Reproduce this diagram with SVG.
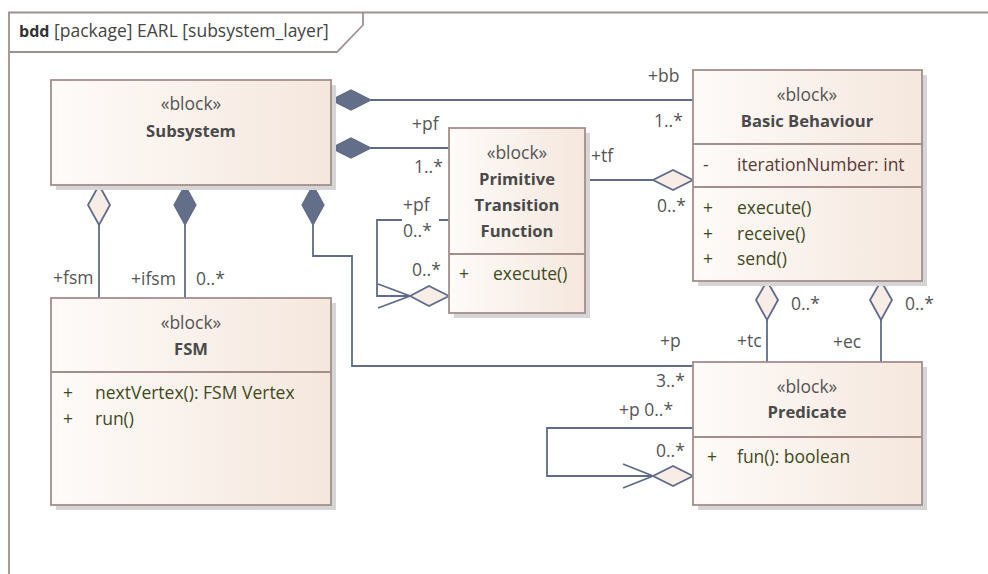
<svg xmlns="http://www.w3.org/2000/svg" width="988" height="574" viewBox="0 0 988 574">
<defs>
<linearGradient id="fill" x1="0" y1="0" x2="1" y2="0">
<stop offset="0" stop-color="#fefbf9"/>
<stop offset="1" stop-color="#f5e7dd"/>
</linearGradient>
</defs>
<style>
text{font-family:"Open Sans","Noto Sans","DejaVu Sans",sans-serif;font-size:17.5px;}
.box{fill:url(#fill);stroke:#a48e8c;stroke-width:1.8;}
.shadow{fill:#d5d5d5;}
.div{stroke:#a48e8c;stroke-width:1.8;}
.st{fill:#555;text-anchor:middle;}
.nm{fill:#4a4a4a;font-weight:bold;text-anchor:middle;font-size:16.6px;}
.op{fill:#3e4a1c;}
.at{fill:#5a3a34;}
.lbl{fill:#555;}
.ln{fill:none;stroke:#5f6b88;stroke-width:1.8;}
.fd{fill:#636e89;stroke:#5f6b88;stroke-width:1.2;}
.hd{fill:#f8ece7;stroke:#5f6b88;stroke-width:1.8;}
.frame{fill:none;stroke:#a09090;stroke-width:1.8;}
</style>
<g id="frame">
<path class="frame" d="M988,12.5 H9 V574"/>
<path class="frame" d="M9,52 H337 L363,25 V12.5"/>
<text x="19" y="37" style="font-weight:bold;fill:#333;font-size:16px">bdd</text>
<text x="54" y="37" style="fill:#444">[package] EARL [subsystem_layer]</text>
</g>
<g id="connectors">
<path class="ln" d="M371,100 H693"/>
<polygon class="fd" points="331,100 351,90 371,100 351,110"/>
<path class="ln" d="M371,148 H449"/>
<polygon class="fd" points="331,148 351,138 371,148 351,158"/>
<path class="ln" d="M585,180 H653"/>
<polygon class="hd" points="693,180 673,170 653,180 673,190"/>
<path class="ln" d="M449,220 H439 M402,220 H377 V296 H410 M378,284 L410,296 L378,308"/>
<polygon class="hd" points="449,296 429,286 410,296 429,306"/>
<path class="ln" d="M99,225 V298"/>
<polygon class="hd" points="99,185 110,205 99,225 88,205"/>
<path class="ln" d="M185,225 V298"/>
<polygon class="fd" points="185,185 196,205 185,225 174,205"/>
<path class="ln" d="M313,225 V256 H352 V366 H693"/>
<polygon class="fd" points="313,185 324,205 313,225 302,205"/>
<path class="ln" d="M767,320 V362"/>
<polygon class="hd" points="767,281 778,300 767,320 756,300"/>
<path class="ln" d="M881,320 V362"/>
<polygon class="hd" points="881,281 892,300 881,320 870,300"/>
<path class="ln" d="M693,428 H547 V476 H653 M623,464 L653,476 L623,488"/>
<polygon class="hd" points="693,476 673,466 653,476 673,486"/>
<text class="lbl" x="648" y="82">+bb</text>
<text class="lbl" x="654" y="127">1..*</text>
<text class="lbl" x="412" y="130">+pf</text>
<text class="lbl" x="414" y="173">1..*</text>
<text class="lbl" x="591" y="162">+tf</text>
<text class="lbl" x="657" y="212">0..*</text>
<text class="lbl" x="403" y="211">+pf</text>
<text class="lbl" x="403" y="237">0..*</text>
<text class="lbl" x="412" y="276">0..*</text>
<text class="lbl" x="53" y="284">+fsm</text>
<text class="lbl" x="131" y="285">+ifsm</text>
<text class="lbl" x="196" y="285">0..*</text>
<text class="lbl" x="791" y="310">0..*</text>
<text class="lbl" x="905" y="310">0..*</text>
<text class="lbl" x="737" y="347">+tc</text>
<text class="lbl" x="833" y="348">+ec</text>
<text class="lbl" x="660" y="347">+p</text>
<text class="lbl" x="656" y="387">3..*</text>
<text class="lbl" x="619" y="416">+p 0..*</text>
<text class="lbl" x="656" y="457">0..*</text>
</g>
<g id="subsystem">
<rect class="shadow" x="56" y="85" width="280" height="105"/>
<rect class="box" x="51" y="80" width="280" height="105"/>
<text class="st" x="191" y="110">«block»</text>
<text class="nm" x="191" y="137">Subsystem</text>
</g>
<g id="ptf">
<rect class="shadow" x="454" y="133" width="136" height="185"/>
<rect class="box" x="449" y="128" width="136" height="185"/>
<line class="div" x1="449" y1="254" x2="585" y2="254"/>
<text class="st" x="517" y="159">«block»</text>
<text class="nm" x="517" y="185">Primitive</text>
<text class="nm" x="517" y="211">Transition</text>
<text class="nm" x="517" y="237">Function</text>
<text class="op" x="459" y="280">+</text>
<text class="op" x="493" y="280">execute()</text>
</g>
<g id="basic-behaviour">
<rect class="shadow" x="698" y="75" width="229" height="211"/>
<rect class="box" x="693" y="70" width="229" height="211"/>
<line class="div" x1="693" y1="144" x2="922" y2="144"/>
<line class="div" x1="693" y1="187" x2="922" y2="187"/>
<text class="st" x="807" y="101">«block»</text>
<text class="nm" x="807" y="127">Basic Behaviour</text>
<text class="at" x="703" y="171">-</text>
<text class="at" x="737" y="171">iterationNumber: int</text>
<text class="op" x="703" y="214">+</text>
<text class="op" x="737" y="214">execute()</text>
<text class="op" x="703" y="240">+</text>
<text class="op" x="737" y="240">receive()</text>
<text class="op" x="703" y="265">+</text>
<text class="op" x="737" y="265">send()</text>
</g>
<g id="fsm">
<rect class="shadow" x="56" y="303" width="280" height="207"/>
<rect class="box" x="51" y="298" width="280" height="207"/>
<line class="div" x1="51" y1="372" x2="331" y2="372"/>
<text class="st" x="191" y="329">«block»</text>
<text class="nm" x="191" y="355">FSM</text>
<text class="op" x="63" y="399">+</text>
<text class="op" x="95" y="399">nextVertex(): FSM Vertex</text>
<text class="op" x="63" y="425">+</text>
<text class="op" x="95" y="425">run()</text>
</g>
<g id="predicate">
<rect class="shadow" x="698" y="367" width="229" height="143"/>
<rect class="box" x="693" y="362" width="229" height="143"/>
<line class="div" x1="693" y1="437" x2="922" y2="437"/>
<text class="st" x="807" y="393">«block»</text>
<text class="nm" x="807" y="418">Predicate</text>
<text class="op" x="707" y="463">+</text>
<text class="op" x="737" y="463">fun(): boolean</text>
</g>
</svg>
